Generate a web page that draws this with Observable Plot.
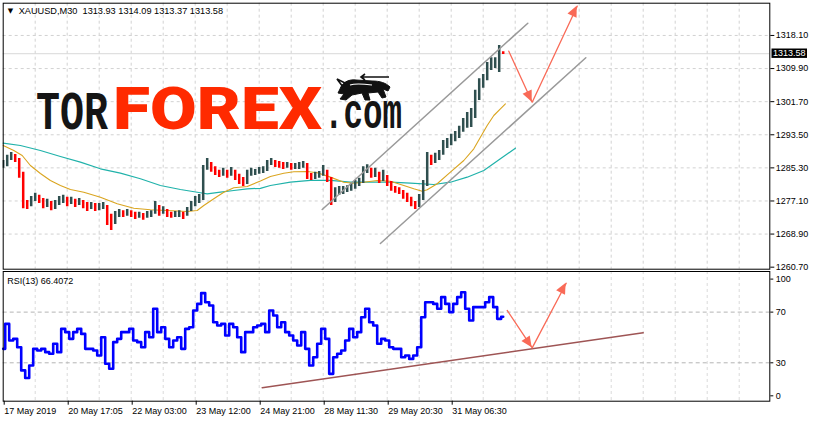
<!DOCTYPE html>
<html><head><meta charset="utf-8">
<script src="https://cdn.jsdelivr.net/npm/d3@7"></script>
<script src="https://cdn.jsdelivr.net/npm/@observablehq/plot@0.6"></script>
<style>
html,body{margin:0;padding:0;background:#fff;}
#chart{position:relative;width:815px;height:422px;overflow:hidden;background:#fff;}
#chart svg{position:absolute;left:0;}
</style></head><body><div id="chart"></div>
<script>
// ---------- data ----------
const symbol = "XAUUSD,M30";
const lastQuote = [1313.93, 1314.09, 1313.37, 1313.58]; // O H L C
const rsiPeriod = 13;
const rsiLast = 66.4072;

const close = [1285.9,1287.1,1288.4,1287.1,1283.4,1276.5,1276.0,1277.2,1278.2,1277.2,
1276.0,1276.5,1275.5,1276.0,1277.2,1277.5,1276.7,1277.2,1276.5,1277.0,
1276.2,1275.5,1276.0,1275.2,1275.7,1276.0,1271.8,1270.8,1273.5,1274.3,
1273.8,1274.3,1273.8,1273.3,1273.5,1273.0,1273.8,1274.0,1275.7,1274.3,
1274.7,1273.8,1273.5,1273.8,1274.0,1273.3,1274.7,1276.0,1277.2,1277.5,
1284.7,1286.4,1285.2,1284.2,1283.7,1284.2,1283.4,1284.2,1283.2,1281.9,
1281.4,1283.7,1284.2,1284.2,1284.4,1284.7,1286.1,1286.9,1286.1,1285.9,
1285.6,1285.9,1285.4,1285.6,1285.6,1285.9,1283.2,1282.9,1283.2,1283.4,
1284.7,1282.7,1277.7,1279.2,1279.7,1279.7,1280.2,1280.7,1281.2,1281.7,
1284.7,1285.2,1283.4,1284.2,1282.2,1283.2,1281.7,1280.2,1279.7,1279.5,
1278.5,1277.7,1276.5,1275.7,1277.7,1280.9,1287.6,1287.1,1287.9,1288.6,
1290.8,1291.6,1292.6,1293.3,1294.1,1295.8,1297.0,1298.3,1302.5,1305.7,
1306.9,1309.4,1311.2,1311.4,1313.9,1313.58];

const high = [1287.1,1288.4,1289.1,1288.6,1287.6,1284.2,1277.2,1278.2,1279.0,1278.5,
1277.7,1277.5,1277.0,1277.2,1278.2,1278.5,1278.0,1278.0,1277.5,1277.7,
1277.2,1276.7,1276.7,1276.5,1276.5,1276.7,1276.0,1273.8,1274.5,1275.0,
1274.7,1275.0,1274.7,1274.3,1274.3,1274.0,1274.5,1274.7,1277.0,1276.0,
1275.7,1275.0,1274.3,1274.5,1274.7,1274.3,1275.5,1277.0,1278.2,1278.7,
1285.9,1287.6,1286.6,1285.6,1284.7,1285.2,1284.7,1285.4,1284.7,1283.7,
1282.9,1284.7,1285.2,1284.9,1285.4,1285.6,1287.1,1287.6,1287.1,1286.9,
1286.6,1286.6,1286.4,1286.4,1286.6,1286.9,1286.4,1283.9,1284.2,1284.4,
1285.9,1284.7,1282.9,1280.4,1280.7,1280.7,1280.9,1281.4,1282.2,1282.7,
1285.6,1286.1,1285.2,1285.2,1284.2,1284.7,1283.4,1281.9,1280.7,1280.4,
1279.7,1279.0,1278.0,1277.0,1278.7,1282.2,1289.1,1288.4,1288.9,1289.6,
1292.1,1292.6,1293.6,1294.3,1295.6,1297.5,1299.0,1300.0,1304.5,1307.4,
1308.4,1311.4,1312.6,1312.6,1315.6,1314.09];

const low = [1285.2,1285.6,1287.1,1286.6,1282.7,1275.2,1275.0,1275.7,1277.0,1276.5,
1275.2,1275.5,1274.7,1275.0,1276.0,1276.5,1275.7,1276.2,1275.5,1276.0,
1275.2,1274.5,1275.0,1274.5,1274.7,1275.0,1271.0,1269.8,1271.3,1273.0,
1273.0,1273.3,1273.0,1272.5,1272.8,1272.3,1272.8,1273.0,1273.8,1273.3,
1273.8,1273.0,1272.8,1273.0,1273.0,1272.5,1273.3,1274.5,1275.7,1276.5,
1277.2,1284.7,1284.2,1283.4,1282.9,1283.2,1282.7,1283.2,1282.2,1281.2,
1280.7,1281.2,1283.2,1283.4,1283.7,1283.9,1284.4,1285.9,1285.4,1285.2,
1284.9,1285.2,1284.7,1284.9,1284.9,1285.2,1282.4,1282.2,1282.4,1282.7,
1283.2,1281.7,1276.0,1276.7,1278.5,1278.7,1279.2,1279.5,1280.0,1280.7,
1281.4,1283.9,1282.7,1282.9,1281.4,1281.9,1280.7,1279.5,1279.0,1278.7,
1277.5,1276.7,1275.7,1275.0,1275.5,1277.2,1280.7,1285.9,1286.4,1287.1,
1288.4,1290.1,1290.8,1291.8,1292.6,1294.1,1295.1,1295.3,1297.5,1302.0,
1305.0,1306.9,1309.4,1309.9,1308.9,1313.37];

const rsi = [41.0,60.7,47.6,48.9,42.3,24.0,18.0,27.9,41.0,39.7,
41.0,38.4,37.1,45.0,38.4,56.8,54.2,48.9,54.2,56.8,
52.8,41.0,41.0,39.7,35.8,50.2,29.2,25.3,46.3,48.9,
54.2,54.2,56.8,47.6,46.3,42.3,54.2,50.2,72.6,54.2,
58.1,48.9,42.3,47.6,50.2,41.0,56.8,58.1,71.3,76.5,
85.0,77.8,75.2,62.0,59.4,60.7,51.5,60.7,58.1,50.2,
38.4,54.2,54.2,58.1,59.4,60.7,54.2,71.3,67.3,58.1,
62.0,54.2,51.5,47.6,43.7,54.2,41.0,27.9,34.4,45.0,
56.8,48.9,21.3,34.4,37.1,39.7,47.6,56.8,50.2,54.2,
66.0,72.6,62.0,59.4,45.0,48.9,47.6,42.3,41.0,41.0,
34.4,35.8,33.1,35.8,42.3,66.0,77.8,77.8,76.5,72.6,
81.8,76.5,70.0,76.5,81.8,85.7,72.6,63.4,73.9,73.9,
73.9,77.8,81.8,73.9,64.7,66.4];

// moving averages (bar position, price)
const maFastIdx = [0,2.65,4.75,6.8,9.3,11.8,14.3,16.8,20.15,24.3,28.5,32.65,36.8,41,46,48.5,50.15,52.65,55.15,57.65,61,64.3,66.8,70.15,72.65,76,78.5,81.8,85.15,87.65,90.15,93.5,96.8,100.15,102.65,104.75,106,108.5,111.8,115.15,117.65,119.3,121,122.65,124.3,125.55];
const maFastVal = [1290.84,1289.61,1288.37,1285.89,1283.91,1282.18,1280.94,1279.95,1279.28,1278.04,1276.40,1275.31,1274.92,1274.74,1274.50,1274.74,1275.98,1277.64,1279.28,1280.37,1280.69,1282.05,1283.17,1283.98,1284.33,1284.40,1284.08,1283.01,1281.75,1281.50,1281.75,1282.18,1282.00,1280.94,1280.12,1279.52,1279.87,1281.36,1284.23,1287.13,1290.03,1292.90,1295.80,1298.27,1299.93,1301.17];
const maSlowIdx = [0,4.3,9.3,14.3,19.3,24.3,29.3,34.3,39.3,44.3,49.3,51,54.3,57.65,61,64.3,66.8,71.8,76.8,81.8,86.8,91.8,96.8,101.8,107.65,111.8,116,120.15,124.3,128.05];
const maSlowVal = [1291.41,1290.84,1289.61,1288.12,1286.71,1285.07,1283.98,1282.60,1280.94,1279.95,1279.13,1278.88,1279.28,1279.70,1280.12,1280.24,1280.94,1281.75,1282.18,1282.18,1281.75,1281.75,1281.75,1281.50,1281.18,1281.75,1282.99,1284.65,1287.55,1290.18];

// drawn objects
const upperIdx = [79.75, 131.15], upperPrice = [1274.99, 1321.14];
const lowerIdx = [94.3, 145.65], lowerPrice = [1266.57, 1312.57];
const arrowIdx = [126.4, 132.25, 143.5], arrowPrice = [1314.2, 1301.57, 1325.35];
const rsiArrowIdx = [126.0, 132.25, 140.75], rsiArrowVal = [71.3, 41.8, 92.8];
const rsiTrendIdx = [64.75, 160], rsiTrendVal = [10.3, 53.7];

// ticks & labels
const priceTicks = [1318.10,1309.90,1301.70,1293.50,1285.30,1277.10,1268.90,1260.70];
const rsiLevels = [70, 30];
const xLabelIdx = [0,16,32,48,64,80,96,112];
const xLabels = ["17 May 2019","20 May 17:05","22 May 03:00","23 May 12:00","24 May 21:00","28 May 11:30","29 May 20:30","31 May 06:30"];
const gridIdx = [0,8,16,24,32,40,48,56,64,72,80,88,96,104,112,120,128,136,144,152,160,168,176,184];

// ---------- build ----------
const FONT = "'Liberation Sans', Arial, sans-serif";
const UP = "#2f4f4f", DOWN = "#ff0000", ARROW = "#f96a57";
const xDomain = [0, 191.65];
const bars = close.map((c, i) => ({i, c, h: high[i], l: low[i], up: i === 0 ? true : c >= close[i - 1]}));
const pts = (xs, ys) => xs.map((x, k) => ({x, y: ys[k]}));
const gridStyle = {stroke: "#d2d2d2", strokeDasharray: "3,3", strokeWidth: 1};

const main = Plot.plot({
  width: 815, height: 270,
  marginLeft: 2.7, marginRight: 45.7, marginTop: 2.7, marginBottom: 1.3,
  style: {fontFamily: FONT, fontSize: "9px", background: "transparent", overflow: "visible"},
  x: {domain: xDomain, axis: null},
  y: {domain: [1260.2, 1326.09]},
  marks: [
    Plot.ruleY(priceTicks.slice(0, -1), gridStyle),
    Plot.ruleX(gridIdx.slice(1), gridStyle),
    Plot.ruleY([lastQuote[3]], {stroke: "#d8d8d8", strokeWidth: 1}),
    Plot.line(pts(maSlowIdx, maSlowVal), {x: "x", y: "y", stroke: "#20b2aa", strokeWidth: 1.2}),
    Plot.line(pts(maFastIdx, maFastVal), {x: "x", y: "y", stroke: "#daa520", strokeWidth: 1.1}),
    Plot.ruleX(bars, {x: "i", y1: "l", y2: "h", stroke: d => d.up ? UP : DOWN, strokeWidth: 2.5, clip: true}),
    Plot.line(pts(upperIdx, upperPrice), {x: "x", y: "y", stroke: "#9a9a9a", strokeWidth: 1.5}),
    Plot.line(pts(lowerIdx, lowerPrice), {x: "x", y: "y", stroke: "#9a9a9a", strokeWidth: 1.5}),
    Plot.line(pts(arrowIdx, arrowPrice), {x: "x", y: "y", stroke: ARROW, strokeWidth: 1.3}),
    Plot.frame({stroke: "#000", strokeWidth: 1}),
    Plot.axisY(priceTicks, {anchor: "right", tickSize: 4, tickPadding: 2, tickFormat: d => d.toFixed(2), fontSize: 9, fill: "#000"}),
    Plot.text(["\u25BC"], {frameAnchor: "top-left", dx: 4.5, dy: 8, lineAnchor: "middle", textAnchor: "start", fontSize: 7, fontFamily: "DejaVu Sans"}),
    Plot.text([`${symbol}  ${lastQuote.map(v => v.toFixed(2)).join(" ")}`], {frameAnchor: "top-left", dx: 15.5, dy: 8, lineAnchor: "middle", textAnchor: "start", fontSize: 9.2, fill: "#000"})
  ]
});
main.style.top = "0px";

const sub = Plot.plot({
  width: 815, height: 152,
  marginLeft: 2.7, marginRight: 45.7, marginTop: 1, marginBottom: 21.3,
  style: {fontFamily: FONT, fontSize: "9px", background: "transparent", overflow: "visible"},
  x: {domain: xDomain},
  y: {domain: [-0.3, 102.05]},
  marks: [
    Plot.ruleX(gridIdx.slice(1), {...gridStyle, stroke: "#dadada"}),
    Plot.ruleY(rsiLevels, {stroke: "#b4b4b4", strokeDasharray: "4,3"}),
    Plot.line(pts(rsiTrendIdx, rsiTrendVal), {x: "x", y: "y", stroke: "#9e5454", strokeWidth: 1.5}),
    Plot.line(rsi.map((v, i) => ({i, v})), {x: "i", y: "v", stroke: "#0000ff", strokeWidth: 2.6, curve: "step"}),
    Plot.line(pts(rsiArrowIdx, rsiArrowVal), {x: "x", y: "y", stroke: ARROW, strokeWidth: 1.3}),
    Plot.frame({stroke: "#000", strokeWidth: 1}),
    Plot.axisY(rsiLevels, {anchor: "right", tickSize: 3, tickPadding: 3, fontSize: 9, fill: "#000"}),
    Plot.axisY([100], {anchor: "right", tickSize: 3, tickPadding: 3, dy: 5, fontSize: 9, fill: "#000"}),
    Plot.axisY([0], {anchor: "right", tickSize: 3, tickPadding: 3, dy: -5, fontSize: 9, fill: "#000"}),
    Plot.axisX(xLabelIdx, {anchor: "bottom", tickSize: 4, tickPadding: 2, textAnchor: "start", dx: 1, fontSize: 9, fill: "#000",
      tickFormat: d => xLabels[xLabelIdx.indexOf(d)]}),
    Plot.text([`RSI(${rsiPeriod}) ${rsiLast.toFixed(4)}`], {frameAnchor: "top-left", dx: 4, dy: 9.7, lineAnchor: "middle", textAnchor: "start", fontSize: 9, fill: "#000"})
  ]
});
sub.style.top = "270px";

const root = document.getElementById("chart");
root.appendChild(main);
root.appendChild(sub);

// ---------- decorations (arrow heads, price tag, logo) ----------
function heads(svg, xsArr, ysArr) {
  const sx = svg.scale("x"), sy = svg.scale("y");
  const P = xsArr.map((x, k) => [sx.apply(x), sy.apply(ysArr[k])]);
  const g = d3.select(svg).append("g");
  for (let k = 1; k < P.length; k++) {
    const [x1, y1] = P[k - 1], [x2, y2] = P[k];
    const len = Math.hypot(x2 - x1, y2 - y1), ux = (x2 - x1) / len, uy = (y2 - y1) / len;
    const L = 11, w = 5, bx = x2 - L * ux, by = y2 - L * uy;
    g.append("path").attr("d", `M${x2},${y2}L${bx - w * uy},${by + w * ux}L${bx + w * uy},${by - w * ux}Z`).attr("fill", ARROW);
  }
}
heads(main, arrowIdx, arrowPrice);
heads(sub, rsiArrowIdx, rsiArrowVal);

{
  const sy = main.scale("y");
  const yc = sy.apply(lastQuote[3]);
  const g = d3.select(main).append("g").attr("text-anchor", "start");
  g.append("rect").attr("x", 771.5).attr("y", yc - 4.7).attr("width", 35.5).attr("height", 9.4).attr("fill", "#000");
  g.append("text").attr("x", 773).attr("y", yc).attr("dy", "0.34em").attr("fill", "#fff").attr("text-anchor", "start")
    .attr("font-size", 9).attr("font-family", FONT).text(lastQuote[3].toFixed(2));

  const logo = d3.select(main).append("g").attr("text-anchor", "start");
  logo.append("text").attr("transform", "translate(36,129) scale(1,1.35)").attr("text-anchor", "start")
    .attr("font-family", "'Liberation Mono', monospace").attr("font-weight", 700)
    .attr("font-size", 40).attr("fill", "#151515").text("TOR");
  logo.append("text").attr("x", 113).attr("y", 129).attr("text-anchor", "start").attr("font-family", "Roboto, 'Open Sans', sans-serif").attr("font-weight", 900)
    .attr("font-size", 60).attr("textLength", 209).attr("lengthAdjust", "spacingAndGlyphs").attr("fill", "#ff2a00").text("FOREX");
  logo.append("text").attr("transform", "translate(324,128) scale(1,1.54)").attr("text-anchor", "start")
    .attr("font-family", "'Liberation Mono', monospace").attr("font-weight", 700)
    .attr("font-size", 32.5).attr("fill", "#151515").text(".com");
  logo.append("path")
    .attr("d", "M340,89 C342,83 348,79 356,80 L372,81 C380,81 386,83 390,87 L388,91 L383,89 L386,97 L382,98 L378,92 L368,93 L370,100 L365,100 L362,93 L352,95 L346,100 L340,99 L344,94 L338,93 Z")
    .attr("fill", "#111").attr("stroke", "#111").attr("stroke-width", 1);
  logo.append("path").attr("d", "M343,87 L337,79 L347,84 M361,77 L389,77 M365,74 L361,77 L365,80")
    .attr("fill", "none").attr("stroke", "#111").attr("stroke-width", 1.6);
  logo.append("path").attr("d", "M350,85 C356,83 364,84 372,85").attr("fill", "none").attr("stroke", "#fff").attr("stroke-width", 1.2);
}
</script></body></html>
